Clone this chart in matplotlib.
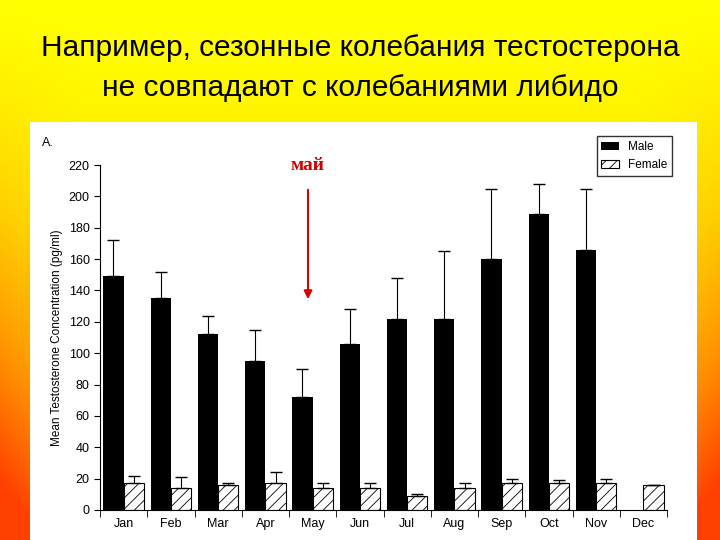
import numpy as np
import matplotlib
matplotlib.use("Agg")
import matplotlib.pyplot as plt
from matplotlib.colors import LinearSegmentedColormap

months = ["Jan", "Feb", "Mar", "Apr", "May", "Jun", "Jul", "Aug", "Sep", "Oct", "Nov", "Dec"]
male = [149, 135, 112, 95, 72, 106, 122, 122, 160, 189, 166, np.nan]
male_top = [172, 152, 124, 115, 90, 128, 148, 165, 205, 208, 205, np.nan]
female = [17, 14, 16, 17, 14, 14, 9, 14, 17, 17, 17, 16]
female_top = [22, 21, 17, 24, 17, 17, 10, 17, 20, 19, 20, 16]

plt.rcParams['font.family'] = ['Liberation Sans', 'DejaVu Sans']
plt.rcParams['hatch.linewidth'] = 0.6

fig = plt.figure(figsize=(7.2, 5.4), dpi=100)

# slide background: yellow at top fading to orange/red at bottom and sides
bg = fig.add_axes([0, 0, 1, 1], zorder=-10)
yy, xx = np.mgrid[0:1:200j, 0:1:200j]
edge = np.minimum(xx, 1 - xx)
val = np.clip((1 - yy) ** 1.5 * 0.8 + np.clip(0.12 - edge, 0, None) * 3 * (1 - yy), 0, 1)
cmap = LinearSegmentedColormap.from_list("slide", ["#ffff00", "#ffd000", "#ff9000", "#ff4000"])
bg.imshow(val, cmap=cmap, aspect="auto", extent=[0, 1, 0, 1], origin="lower",
          vmin=0, vmax=1)
bg.axis("off")

# white panel of the scanned figure
panel = fig.add_axes([30 / 720, 0, 667 / 720, 418 / 540], zorder=-5)
panel.set_facecolor("white")
panel.set_xticks([])
panel.set_yticks([])
for s in panel.spines.values():
    s.set_visible(False)

fig.text(0.5, 1 - 48 / 540, "Например, сезонные колебания тестостерона",
         ha="center", va="center", fontsize=21.5)
fig.text(0.5, 1 - 88 / 540, "не совпадают с колебаниями либидо",
         ha="center", va="center", fontsize=21.5)

ax = fig.add_axes([100 / 720, 30 / 540, 567 / 720, 345 / 540])
ax.set_facecolor("none")
x = np.arange(len(months))
w = 0.43
m = np.array(male, dtype=float)
mt = np.array(male_top, dtype=float)
f = np.array(female, dtype=float)
ft = np.array(female_top, dtype=float)
ax.bar(x - w / 2, m, w, color="black", label="Male",
       yerr=[np.zeros_like(m), mt - m], error_kw=dict(ecolor="black", capsize=4, elinewidth=0.8))
ax.bar(x + w / 2, f, w, facecolor="white", edgecolor="black", hatch="///", linewidth=0.8,
       label="Female", yerr=[np.zeros_like(f), ft - f],
       error_kw=dict(ecolor="black", capsize=4, elinewidth=0.8))

ax.set_xlim(-0.5, 11.5)
ax.set_ylim(0, 220)
ax.set_yticks(range(0, 221, 20))
ax.set_xticks(x)
ax.set_xticklabels(months, fontsize=9)
ax.tick_params(axis="x", length=0, pad=6)
ax.set_xticks(np.arange(-0.5, 12, 1), minor=True)
ax.tick_params(axis="x", which="minor", length=5, direction="out")
ax.tick_params(axis="y", labelsize=9, length=4)
ax.spines["top"].set_visible(False)
ax.spines["right"].set_visible(False)
ax.set_ylabel("Mean Testosterone Concentration (pg/ml)", fontsize=8.5)
ax.legend(loc="upper right", bbox_to_anchor=(1.02, 1.1), fontsize=8.5, frameon=True,
          fancybox=False, edgecolor="black", handlelength=1.5, borderpad=0.4)

fig.text(42 / 720, 1 - 143 / 540, "A.", fontsize=9, va="center")
fig.text(308 / 720, 1 - 165 / 540, "май", color="#cc0000", fontsize=14, fontweight="bold",
         family=["Liberation Serif", "DejaVu Serif"], ha="center", va="center")
fig.patches.append(matplotlib.patches.FancyArrowPatch(
    (308 / 720, 1 - 187 / 540), (308 / 720, 1 - 302 / 540), transform=fig.transFigure,
    arrowstyle="-|>", mutation_scale=12, color="#dd0000", linewidth=1.5))

fig.savefig("out.png", dpi=100)
